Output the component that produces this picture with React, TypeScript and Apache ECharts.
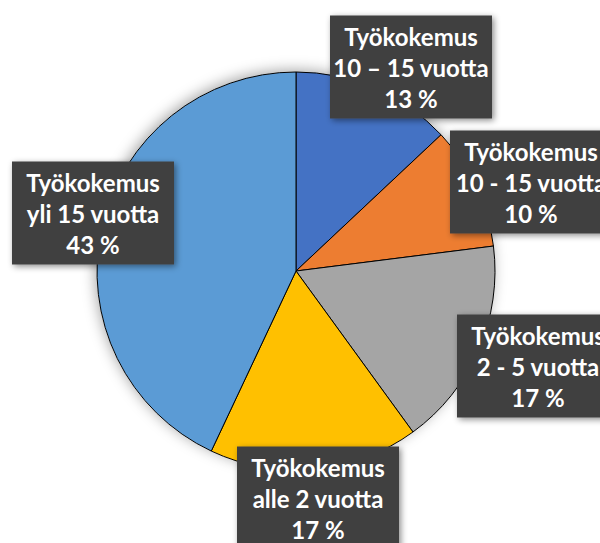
import React, { useEffect, useRef } from "react";
import * as echarts from "echarts";

const prefix = "Työkokemus";
const categories = ["10 – 15 vuotta", "10 - 15 vuotta", "2 - 5 vuotta", "alle 2 vuotta", "yli 15 vuotta"];
const values = [13, 10, 17, 17, 43];
const colors = ["#4472C4", "#ED7D31", "#A5A5A5", "#FFC000", "#5B9BD5"];
// label box centres (layout only)
const labelCenters: [number, number][] = [
  [411, 67],
  [531, 182],
  [538, 366],
  [318, 498],
  [93, 213],
];

export default function App() {
  const ref = useRef<HTMLDivElement>(null);
  useEffect(() => {
    document.body.style.margin = "0";
    const chart = echarts.init(ref.current!, null, { renderer: "svg" });
    const center = [296, 271];
    const radius = 199;
    chart.setOption({
      animation: false,
      backgroundColor: "#ffffff",
      series: [
        {
          type: "pie",
          silent: true,
          center,
          radius,
          z: 1,
          label: { show: false },
          labelLine: { show: false },
          data: [{ value: 1, name: "bg" }],
          itemStyle: {
            color: "#ffffff",
            shadowBlur: 14,
            shadowColor: "rgba(0,0,0,0.35)",
            shadowOffsetX: -2,
            shadowOffsetY: -2,
          },
        },
        {
          type: "pie",
          center,
          radius,
          z: 2,
          startAngle: 90,
          clockwise: true,
          data: categories.map((c, i) => ({
            name: c,
            value: values[i],
            itemStyle: { color: colors[i] },
          })),
          itemStyle: { borderColor: "#000000", borderWidth: 1 },
          labelLine: { show: false },
          label: {
            show: true,
            position: "outside",
            formatter: (p: any) => `${prefix}\n${p.name}\n${p.value} %`,
            color: "#ffffff",
            fontFamily: "Lato",
            fontWeight: "bold",
            fontSize: 24,
            lineHeight: 31,
            backgroundColor: "#404040",
            width: 152,
            overflow: "none",
            padding: [5, 5, 5, 5],
            align: "center",
            verticalAlign: "middle",
            shadowBlur: 6,
            shadowColor: "rgba(0,0,0,0.45)",
            shadowOffsetX: 2,
            shadowOffsetY: 2,
          },
          labelLayout: (params: any) => {
            const c = labelCenters[params.dataIndex];
            return {
              x: c[0],
              y: c[1],
              align: "center",
              verticalAlign: "middle",
            };
          },
        },
      ],
    });
    return () => chart.dispose();
  }, []);
  return (
    <div
      ref={ref}
      style={{ position: "absolute", left: 0, top: 0, width: 600, height: 543 }}
    />
  );
}
